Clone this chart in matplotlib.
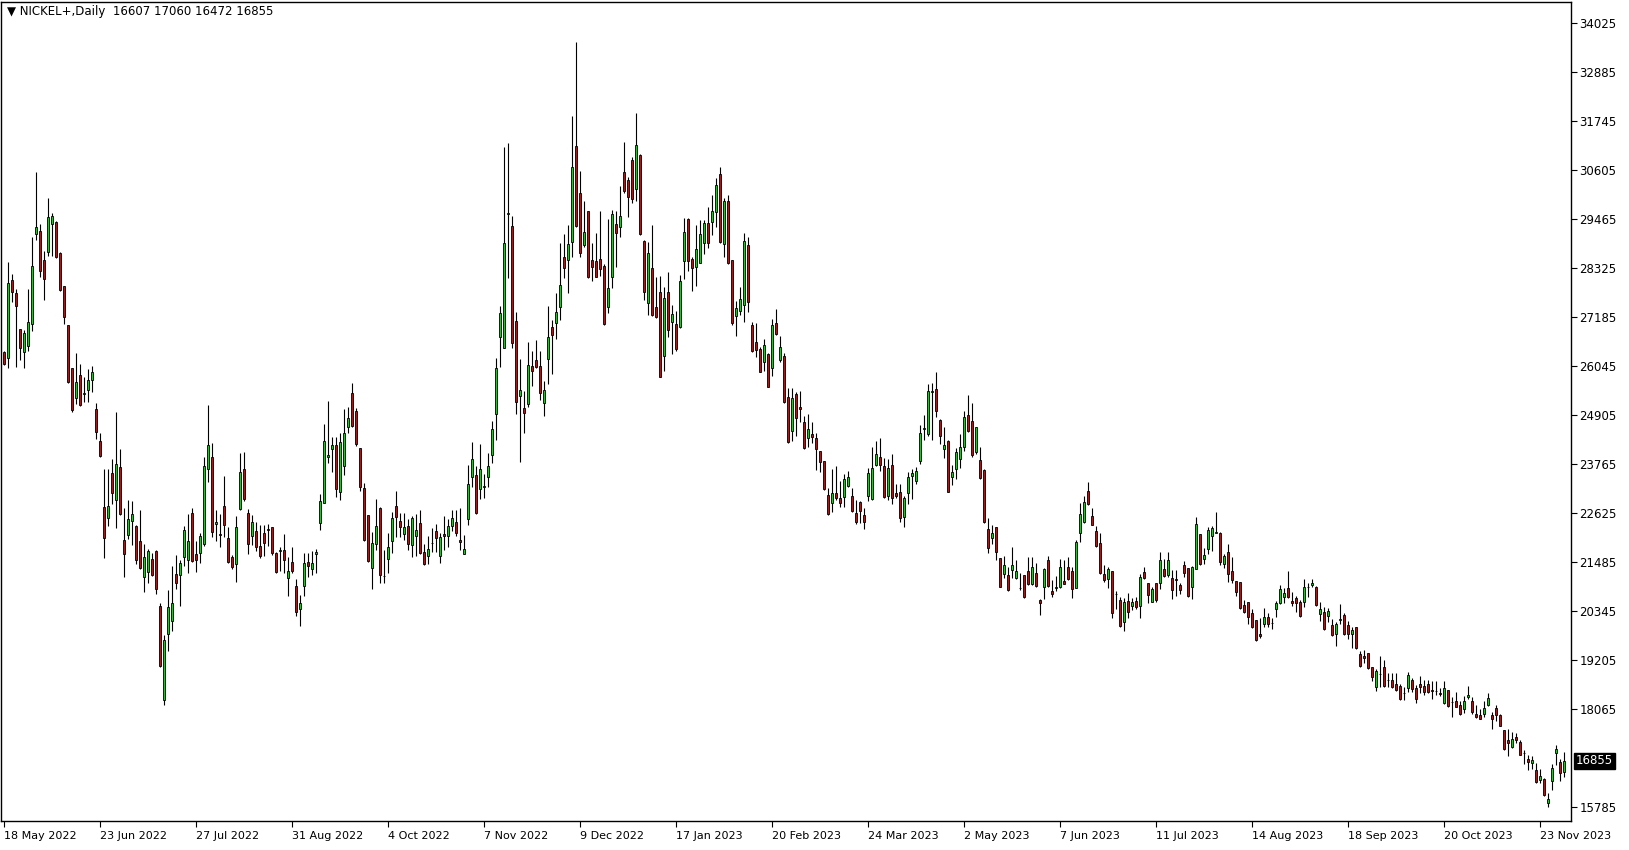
import numpy as np
import matplotlib.pyplot as plt

# daily candles, 18 May 2022 .. 1 Dec 2023
opens = [
    26370, 26230, 28040, 27740, 26900, 26365, 26515, 27035, 29130, 29185,
    28505, 28695, 29350, 29390, 28670, 27900, 26995, 25990, 25305, 25835,
    25400, 25495, 25715, 25035, 24300, 22755, 22510, 23555, 22920, 23690,
    22000, 22105, 22430, 22330, 21965, 21125, 21245, 21550, 21750, 20470,
    18280, 19815, 20120, 21195, 21190, 21590, 21530, 22620, 21670, 21690,
    21915, 23640, 23920, 22360, 22135, 22790, 22035, 21595, 21430, 22710,
    23640, 22615, 22100, 22200, 21855, 22150, 22245, 22290, 21685, 21745,
    21765, 21105, 21485, 20925, 20380, 20935, 21485, 21330, 21665, 22400,
    22865, 23920, 24105, 24210, 23105, 23725, 24635, 25410, 25000, 24130,
    23205, 22570, 21350, 21905, 22740, 21150, 21545, 21980, 22780, 22430,
    22130, 22315, 21870, 22085, 22385, 21710, 21620, 21920, 22200, 21635,
    22145, 22085, 22315, 22405, 21995, 21665, 22490, 23470, 23510, 23195,
    23240, 23470, 23980, 24935, 26715, 26475, 29590, 29300, 27105, 25360,
    25065, 25155, 26045, 26190, 26045, 25175, 26205, 26965, 27055, 27410,
    28595, 28525, 28925, 31170, 30075, 28870, 29645, 28505, 28490, 28530,
    28375, 27410, 28125, 29350, 29290, 30565, 30370, 30840, 30160, 30950,
    28955, 27505, 28320, 27410, 27760, 26280, 27760, 27065, 27025, 26945,
    28500, 29470, 28535, 28360, 28450, 28900, 29370, 29390, 29625, 30510,
    28880, 29890, 28505, 27205, 27320, 27465, 28865, 27000, 26600, 26450,
    26130, 26325, 25990, 27050, 26180, 26280, 25335, 24540, 25390, 25085,
    24735, 24365, 24465, 24365, 24070, 23835, 23045, 22865, 23085, 22965,
    22990, 23260, 23020, 22615, 22875, 22580, 23030, 22960, 23735, 23920,
    23720, 23030, 23735, 23085, 23105, 22540, 23085, 23485, 23380, 23845,
    24590, 24455, 25450, 25505, 24790, 24105, 24300, 23470, 23640, 23880,
    24155, 24900, 24765, 24040, 23860, 23625, 22245, 22035, 22290, 21570,
    21205, 21175, 21300, 21120, 20870, 21175, 21275, 20970, 21220, 20600,
    20910, 21525, 20810, 20870, 20910, 21040, 21360, 21265, 20885, 22165,
    22425, 23130, 22545, 22205, 21920, 21195, 21080, 21275, 20740, 20605,
    20080, 20585, 20460, 20575, 20460, 21245, 20990, 20560, 20990, 20990,
    21320, 21175, 21120, 21090, 20950, 21405, 21335, 20895, 21330, 22130,
    21560, 21780, 22095, 22165, 22150, 21445, 21710, 21275, 21040, 21010,
    20475, 20545, 20290, 20125, 19805, 20035, 20195, 20055, 20380, 20520,
    20675, 20870, 20575, 20640, 20545, 20550, 20905, 20940, 20895, 20265,
    20310, 20235, 20025, 19815, 20140, 20240, 20010, 19800, 19965, 19340,
    19295, 19355, 19030, 18580, 18875, 19030, 18735, 18735, 18645, 18605,
    18425, 18560, 18735, 18560, 18645, 18600, 18645, 18490, 18480, 18445,
    18195, 18495, 18225, 18250, 18165, 18070, 18335, 18250, 17945, 17920,
    17945, 18165, 17925, 18085, 17915, 17575, 17340, 17185, 17410, 17295,
    17030, 16900, 16795, 16640, 16410, 16435, 15865, 16380, 17030, 16820,
    16607,
]
highs = [
    26390, 28470, 28190, 27840, 26900, 26880, 27835, 29060, 30555, 29350,
    28720, 29960, 29620, 29420, 28690, 27920, 27010, 26000, 26350, 26090,
    25780, 25985, 26040, 25185, 24490, 23655, 23655, 23885, 24980, 24105,
    22730, 22920, 22905, 22345, 22690, 21915, 21795, 21695, 21765, 20535,
    19775, 20835, 21385, 21640, 21530, 22325, 22595, 22730, 21965, 22170,
    23920, 25140, 24260, 22695, 22600, 23485, 22290, 21645, 22565, 24015,
    24045, 22710, 22580, 22425, 22345, 22345, 22370, 22300, 21725, 21825,
    22135, 21595, 21825, 21090, 20715, 21700, 21700, 21740, 21785, 23065,
    24690, 25230, 24400, 24385, 24495, 25045, 25085, 25660, 25075, 24140,
    23315, 22580, 22175, 22945, 22770, 21765, 22150, 22655, 23135, 22615,
    22615, 22485, 22555, 22600, 22690, 21905, 22085, 22285, 22370, 22155,
    22545, 22485, 22690, 22690, 22750, 22110, 23740, 24275, 23715, 24230,
    23535, 24025, 24765, 26235, 27455, 31145, 31230, 29530, 27305, 26205,
    25470, 26610, 26385, 26655, 26385, 25690, 27455, 27125, 27750, 28905,
    29130, 29325, 31865, 33600, 30590, 29885, 29660, 28900, 29150, 29655,
    28420, 29470, 29680, 29655, 30235, 31260, 30440, 30905, 31930, 30980,
    28980, 28925, 29330, 28125, 28140, 27880, 28225, 27465, 27335, 28165,
    29500, 29500, 28590, 29330, 29445, 29445, 29750, 30025, 30415, 30685,
    29950, 30025, 28520, 27560, 27880, 29150, 29055, 27080, 27055, 26495,
    26675, 26340, 27140, 27375, 26745, 26340, 25525, 25540, 25435, 25465,
    24885, 24930, 24735, 24480, 24080, 23845, 23200, 23650, 23720, 23370,
    23535, 23605, 23200, 22930, 22910, 22735, 23680, 24155, 24300, 24365,
    23900, 23890, 23990, 23295, 23295, 23020, 23580, 23640, 23690, 24675,
    24905, 25630, 25645, 25900, 24805, 24620, 24325, 23745, 24130, 24465,
    25010, 25370, 25195, 24635, 24155, 23640, 22500, 22350, 22300, 21580,
    21625, 21375, 21825, 21530, 21220, 21185, 21595, 21595, 21455, 20615,
    21335, 21625, 21065, 21160, 21545, 21530, 21595, 21360, 21995, 22850,
    23020, 23340, 22735, 22330, 22165, 21415, 21375, 21285, 20815, 20675,
    20655, 20770, 20655, 20660, 21205, 21360, 21000, 20895, 21000, 21725,
    21555, 21725, 21290, 21300, 20990, 21510, 21350, 21390, 22525, 22140,
    21800, 22290, 22320, 22640, 22180, 21660, 21905, 21590, 21050, 21020,
    20600, 20555, 20395, 20135, 20180, 20405, 20290, 20170, 20585, 20950,
    20870, 21275, 20785, 20690, 20600, 21080, 21005, 21090, 20925, 20560,
    20430, 20405, 20150, 20095, 20505, 20290, 20120, 19965, 19980, 19420,
    19435, 19365, 19040, 18985, 19295, 19200, 18910, 18910, 18895, 18645,
    18580, 18925, 18775, 18620, 18830, 18735, 18735, 18720, 18720, 18545,
    18720, 18505, 18335, 18460, 18240, 18365, 18600, 18350, 18155, 18055,
    18255, 18425, 18000, 18155, 17945, 17585, 17590, 17535, 17495, 17340,
    17110, 17000, 16970, 16795, 16660, 16445, 16115, 16780, 17225, 16890,
    17060,
]
lows = [
    26065, 26010, 27535, 26025, 26190, 26010, 26390, 26865, 28980, 28125,
    27575, 28615, 28600, 28550, 27790, 27030, 25650, 24985, 25165, 25125,
    25205, 25205, 25450, 24350, 23935, 21570, 22325, 22840, 22285, 22575,
    21140, 22020, 21885, 21435, 21325, 20790, 21000, 21165, 20740, 19040,
    18165, 19410, 19875, 20860, 20470, 21395, 21230, 21490, 21245, 21450,
    21860, 23355, 22075, 21980, 21825, 22075, 21470, 21330, 21010, 22695,
    22910, 21665, 21880, 21750, 21570, 21625, 21865, 21640, 21235, 21265,
    21235, 20700, 21220, 20225, 19995, 20700, 21125, 21180, 21235, 22230,
    22850, 23780, 23570, 23005, 22930, 23510, 24480, 24635, 24190, 23145,
    21980, 21490, 20865, 21765, 20990, 20990, 21220, 21685, 22060, 22075,
    21995, 21770, 21610, 21635, 21680, 21420, 21440, 21725, 21710, 21470,
    21770, 21840, 22200, 22085, 21755, 21660, 22350, 23225, 22605, 22940,
    22980, 23240, 23800, 24335, 26030, 26460, 28105, 26475, 24935, 23820,
    24495, 25095, 25585, 26010, 25255, 24890, 25630, 25870, 26670, 27125,
    28095, 27750, 28595, 29280, 28595, 28825, 28105, 28025, 28110, 28140,
    27000, 27275, 27855, 28345, 29055, 30080, 29505, 29850, 29895, 29100,
    27585, 27235, 27220, 27155, 25785, 25940, 26715, 26320, 26405, 26930,
    28070, 28265, 27800, 27915, 28440, 28655, 28800, 29095, 29290, 28920,
    28590, 28420, 27000, 26755, 27235, 27065, 27295, 26380, 26265, 25900,
    25940, 25550, 25820, 26770, 26145, 25190, 24260, 24310, 24420, 24735,
    24105, 24170, 24245, 23625, 23570, 23160, 22580, 22655, 22930, 22755,
    22775, 23230, 22655, 22370, 22400, 22245, 22910, 22930, 23720, 23610,
    22965, 22930, 22835, 22980, 22425, 22305, 22835, 22960, 23300, 23760,
    24325, 24420, 24325, 24870, 24225, 23915, 23110, 23275, 23410, 23665,
    24075, 24510, 23935, 24000, 23415, 22400, 21685, 21900, 21530, 20900,
    21105, 20815, 21105, 21080, 20830, 20655, 20950, 20950, 20910, 20250,
    20630, 20895, 20660, 20810, 20870, 20970, 21065, 20655, 20870, 21960,
    22400, 22805, 22340, 21840, 21205, 21025, 20870, 20175, 20380, 19980,
    19880, 20175, 20365, 20380, 20175, 21080, 20520, 20545, 20545, 20865,
    21135, 21145, 20630, 20695, 20730, 21140, 20680, 20615, 21320, 21415,
    21430, 21670, 21745, 22150, 21405, 21335, 21025, 20985, 20690, 20395,
    20305, 20050, 19955, 19650, 19720, 19980, 19980, 19915, 20210, 20515,
    20520, 20640, 20460, 20325, 20210, 20445, 20660, 20895, 20460, 20120,
    19900, 20095, 19760, 19530, 20040, 19785, 19685, 19490, 19465, 19045,
    19125, 19000, 18715, 18490, 18580, 18580, 18565, 18545, 18490, 18270,
    18270, 18465, 18465, 18210, 18425, 18390, 18425, 18305, 18390, 18365,
    18180, 18100, 17885, 18100, 17925, 17975, 18285, 17945, 17845, 17830,
    17870, 18130, 17595, 17790, 17660, 17105, 16970, 17160, 17265, 16990,
    16775, 16640, 16660, 16345, 16330, 16035, 15790, 16175, 16765, 16395,
    16472,
]
closes = [
    26090, 27970, 27765, 27435, 26475, 26815, 27060, 28375, 29275, 28270,
    28080, 29510, 29535, 28575, 27805, 27185, 25680, 25030, 25675, 25140,
    25410, 25715, 25900, 24505, 23960, 22045, 22780, 23085, 23755, 22595,
    21680, 22495, 22595, 21530, 21350, 21590, 21730, 21190, 20860, 19060,
    19670, 20430, 20535, 20985, 21465, 22225, 21965, 21515, 21530, 22080,
    23710, 24200, 22190, 22410, 22105, 22340, 21490, 21375, 22290, 23570,
    22945, 21905, 22410, 21825, 21625, 21935, 22220, 21700, 21260, 21750,
    21530, 21275, 21280, 20330, 20520, 21460, 21400, 21470, 21715, 22905,
    24300, 23970, 24200, 23175, 24270, 24485, 24830, 24660, 24225, 23240,
    22000, 21515, 21920, 22320, 21175, 21160, 21825, 22500, 22540, 22290,
    22290, 21915, 22500, 22225, 21690, 21440, 21795, 21925, 22045, 22055,
    22100, 22330, 22520, 22155, 21940, 21795, 23295, 23875, 22615, 23640,
    23245, 23730, 24575, 26010, 27270, 28900, 29600, 26590, 25210, 25485,
    24960, 26065, 25940, 26030, 25425, 25485, 26725, 26780, 27305, 27935,
    28320, 28880, 30680, 29310, 28675, 29165, 28125, 28345, 28125, 28300,
    27015, 27855, 29575, 29135, 29530, 30130, 29990, 29925, 31190, 29110,
    27760, 28670, 27235, 27180, 25800, 27620, 26885, 27250, 26435, 28025,
    29165, 28500, 28320, 28765, 29120, 29370, 28900, 29655, 30260, 28940,
    29890, 28450, 27040, 27390, 27600, 28955, 27530, 26395, 26410, 25915,
    26535, 25565, 27000, 26785, 26490, 25200, 24285, 25310, 24830, 25040,
    24145, 24575, 24400, 24105, 23805, 23175, 22595, 23085, 22965, 22865,
    23410, 23455, 22680, 22425, 22680, 22425, 23550, 23665, 23990, 23735,
    23005, 23665, 22965, 23030, 22500, 22980, 23465, 23550, 23595, 24480,
    24600, 25475, 25455, 25010, 24420, 24200, 23120, 23570, 24040, 24155,
    24850, 24540, 23985, 24620, 23430, 22410, 21820, 22150, 21725, 20910,
    21405, 20830, 21405, 21265, 20875, 20675, 20970, 21375, 20935, 20520,
    21315, 20925, 20740, 20910, 21360, 20980, 21095, 20850, 21950, 22595,
    22875, 22825, 22345, 21855, 21220, 21075, 21320, 20305, 20745, 19995,
    20545, 20315, 20545, 20430, 21125, 21105, 20710, 20855, 20590, 21525,
    21160, 21525, 20830, 21065, 20830, 21225, 20700, 21360, 22360, 21440,
    21640, 22220, 22265, 22170, 21475, 21625, 21210, 21055, 20780, 20405,
    20310, 20210, 19970, 19660, 19760, 20210, 20040, 20060, 20520, 20845,
    20755, 20660, 20540, 20520, 20235, 20895, 20910, 20985, 20475, 20380,
    19915, 20350, 19775, 20035, 20145, 19800, 19800, 19895, 19475, 19055,
    19240, 19010, 18815, 18940, 18880, 18590, 18730, 18580, 18510, 18295,
    18430, 18845, 18535, 18305, 18580, 18465, 18465, 18485, 18485, 18405,
    18545, 18140, 18230, 18115, 17945, 18250, 18390, 17985, 17870, 17840,
    18080, 18320, 17830, 17925, 17665, 17125, 17280, 17355, 17340, 17000,
    17035, 16820, 16875, 16365, 16495, 16050, 15960, 16690, 17125, 16580,
    16855,
]

date_labels = ["18 May 2022", "23 Jun 2022", "27 Jul 2022", "31 Aug 2022",
               "4 Oct 2022", "7 Nov 2022", "9 Dec 2022", "17 Jan 2023",
               "20 Feb 2023", "24 Mar 2023", "2 May 2023", "7 Jun 2023",
               "11 Jul 2023", "14 Aug 2023", "18 Sep 2023", "20 Oct 2023",
               "23 Nov 2023"]
date_bars = [0, 24, 48, 72, 96, 120, 144, 168, 192, 216, 240, 264, 288,
             312, 336, 360, 384]
price_ticks = [34025, 32885, 31745, 30605, 29465, 28325, 27185, 26045,
               24905, 23765, 22625, 21485, 20345, 19205, 18065, 15785]
symbol = "NICKEL+,Daily"
last_price = 16855

o = np.array(opens)
h = np.array(highs)
l = np.array(lows)
c = np.array(closes)
x = np.arange(len(o))

fig = plt.figure(figsize=(16.29, 8.5), dpi=100)
ax = fig.add_axes([1 / 1629, 29 / 850, 1570 / 1629, 819 / 850])

# wicks
ax.vlines(x, l, h, color="black", linewidth=0.8, zorder=1)

# bodies
up = c >= o
bottom = np.minimum(o, c)
height = np.maximum(np.abs(c - o), 8)
ax.bar(x[up], height[up], bottom=bottom[up], width=0.72,
       color="#00dd00", edgecolor="black", linewidth=0.6, zorder=2)
ax.bar(x[~up], height[~up], bottom=bottom[~up], width=0.72,
       color="#e00000", edgecolor="black", linewidth=0.6, zorder=2)

ax.set_xlim(-0.75, 391.75)
ax.set_ylim(15455, 34521)

ax.yaxis.tick_right()
ax.set_yticks(price_ticks)
ax.set_yticklabels([str(p) for p in price_ticks])
ax.set_xticks(date_bars)
ax.set_xticklabels(date_labels, ha="left")
ax.tick_params(axis="y", length=4, width=0.8, pad=2, labelsize=8.5)
ax.tick_params(axis="x", length=4, width=0.8, pad=3, labelsize=8)
for s in ax.spines.values():
    s.set_linewidth(1)
    s.set_color("black")

ax.text(0.004, 0.996, "\u25bc " + symbol + "  16607 17060 16472 16855",
        transform=ax.transAxes, ha="left", va="top", fontsize=8.5)

ax.annotate(str(last_price), xy=(1.0, last_price),
            xycoords=("axes fraction", "data"),
            xytext=(5, 0), textcoords="offset pixels",
            ha="left", va="center", fontsize=8.5, color="white",
            bbox=dict(boxstyle="square,pad=0.15", fc="black", ec="black"))

plt.savefig("out.png", dpi=100)
